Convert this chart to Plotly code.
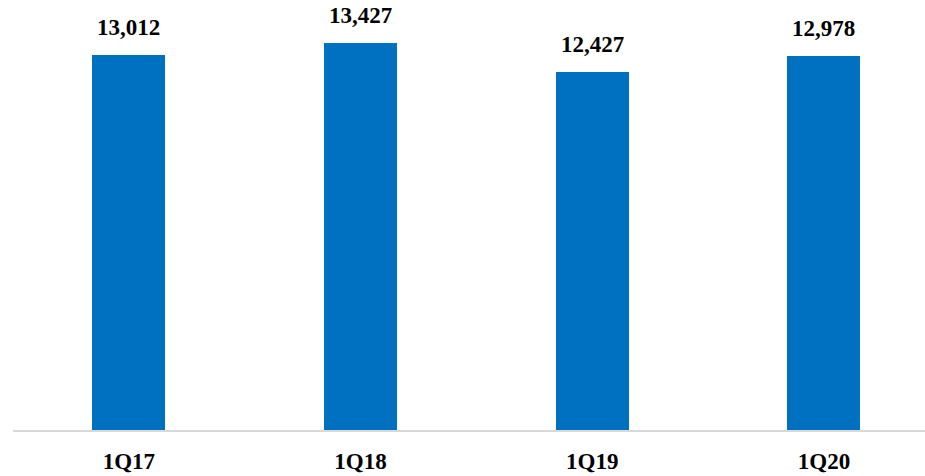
import plotly.graph_objects as go

categories = ["1Q17", "1Q18", "1Q19", "1Q20"]
values = [13012, 13427, 12427, 12978]
labels = ["13,012", "13,427", "12,427", "12,978"]

FONT = "Liberation Serif"

fig = go.Figure()
fig.add_trace(go.Bar(
    x=categories, y=values,
    marker=dict(color="#0070C0", line=dict(width=0)),
    width=0.315,
    hoverinfo="skip",
))

for c, v, t in zip(categories, values, labels):
    fig.add_annotation(x=c, y=v, text="<b>%s</b>" % t, showarrow=False,
                       yanchor="bottom", yshift=13,
                       font=dict(family=FONT, size=23, color="#000000"))

fig.update_layout(
    width=925, height=476,
    margin=dict(l=13, r=0, t=0, b=46, autoexpand=False),
    paper_bgcolor="white", plot_bgcolor="white",
    showlegend=False,
    bargap=0,
    xaxis=dict(
        range=[-0.5, 3.436], automargin=False,
        showline=True, linecolor="#d9d9d9", linewidth=2,
        showgrid=False, zeroline=False,
        ticks="", ticklabelstandoff=9,
        tickfont=dict(family=FONT, size=23, color="#000000"),
        tickprefix="<b>", ticksuffix="</b>",
    ),
    yaxis=dict(
        range=[0, 14919], visible=False, showgrid=False, zeroline=False,
        automargin=False,
    ),
)

fig.write_html("out.html")
